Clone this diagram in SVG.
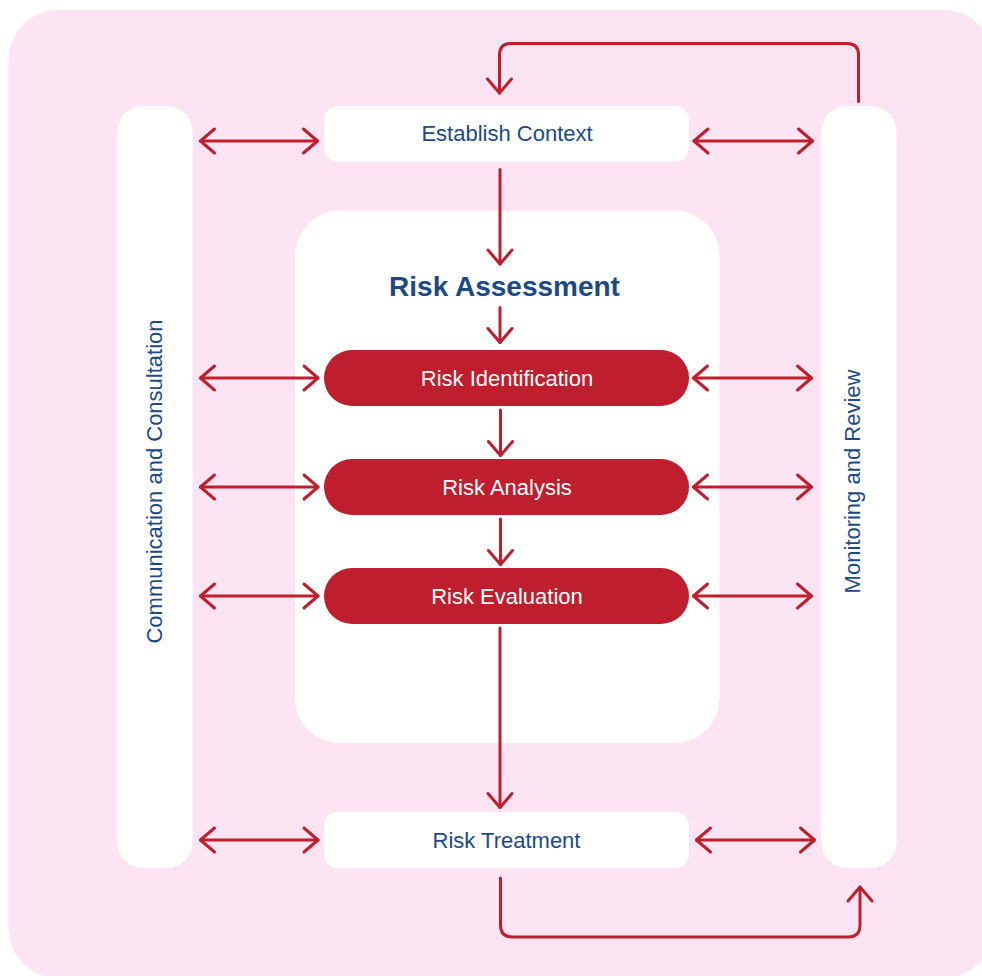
<svg xmlns="http://www.w3.org/2000/svg" width="982" height="976" viewBox="0 0 982 976">
<style>
.bg{fill:#fce4f2}
.white{fill:#ffffff}
.pill{fill:#be1e2d}
.lbl{font-family:"Liberation Sans",Arial,sans-serif;font-size:22px;fill:#1d4a85;text-anchor:middle}
.wlbl{font-family:"Liberation Sans",Arial,sans-serif;font-size:22px;fill:#ffffff;text-anchor:middle}
.title{font-family:"Liberation Sans",Arial,sans-serif;font-size:28px;font-weight:bold;fill:#1d4a85;text-anchor:middle}
.con{fill:none;stroke:#be1e2d;stroke-width:3;stroke-linecap:round;stroke-linejoin:round}
</style>
<defs>
<marker id="ah" viewBox="-20 -16 26 32" refX="0" refY="0" markerWidth="26" markerHeight="32" markerUnits="userSpaceOnUse" orient="auto-start-reverse">
<path d="M-14,-12 L0,0 L-14,12" fill="none" stroke="#be1e2d" stroke-width="3" stroke-linecap="round" stroke-linejoin="round"/>
</marker>
</defs>
<rect class="bg" x="8.5" y="10" width="985" height="968" rx="50"/>
<g id="panel-risk-assessment">
<rect class="white" x="295" y="210.5" width="424.5" height="532.5" rx="45"/>
<text class="title" x="504.5" y="295.5">Risk Assessment</text>
</g>
<g id="node-communication">
<rect class="white" x="117.5" y="106" width="75" height="762" rx="25"/>
<text class="lbl" transform="translate(161.5,481.5) rotate(-90)">Communication and Consultation</text>
</g>
<g id="node-monitoring">
<rect class="white" x="821.5" y="106" width="75" height="762" rx="25"/>
<text class="lbl" transform="translate(860,481.5) rotate(-90)">Monitoring and Review</text>
</g>
<g id="node-establish-context">
<rect class="white" x="324" y="106" width="365" height="55.5" rx="14"/>
<text class="lbl" x="507" y="141">Establish Context</text>
</g>
<g id="node-risk-identification">
<rect class="pill" x="324" y="350" width="365" height="56" rx="28"/>
<text class="wlbl" x="507" y="385.5">Risk Identification</text>
</g>
<g id="node-risk-analysis">
<rect class="pill" x="324" y="459" width="365" height="56" rx="28"/>
<text class="wlbl" x="507" y="495">Risk Analysis</text>
</g>
<g id="node-risk-evaluation">
<rect class="pill" x="324" y="568" width="365" height="56" rx="28"/>
<text class="wlbl" x="507" y="604">Risk Evaluation</text>
</g>
<g id="node-risk-treatment">
<rect class="white" x="324" y="812" width="365" height="56" rx="14"/>
<text class="lbl" x="506.5" y="848">Risk Treatment</text>
</g>
<g id="connectors">
<path class="con" d="M858.5,101.5 V55 Q858.5,43.5 847,43.5 H511 Q499.5,43.5 499.5,55 V93" marker-end="url(#ah)"/>
<path class="con" d="M500,169.5 V264" marker-end="url(#ah)"/>
<path class="con" d="M500,307.5 V342.5" marker-end="url(#ah)"/>
<path class="con" d="M500.5,410 V455.5" marker-end="url(#ah)"/>
<path class="con" d="M500.5,519 V564.5" marker-end="url(#ah)"/>
<path class="con" d="M500,628 V807.5" marker-end="url(#ah)"/>
<path class="con" d="M500.5,878 V925 Q500.5,937 512.5,937 H848 Q860,937 860,925 V887" marker-end="url(#ah)"/>
<path class="con" d="M200.5,141 H317.5" marker-start="url(#ah)" marker-end="url(#ah)"/>
<path class="con" d="M694,141 H812.5" marker-start="url(#ah)" marker-end="url(#ah)"/>
<path class="con" d="M200.5,378 H318" marker-start="url(#ah)" marker-end="url(#ah)"/>
<path class="con" d="M693.5,378 H811.5" marker-start="url(#ah)" marker-end="url(#ah)"/>
<path class="con" d="M200.5,487 H318" marker-start="url(#ah)" marker-end="url(#ah)"/>
<path class="con" d="M693.5,487 H811.5" marker-start="url(#ah)" marker-end="url(#ah)"/>
<path class="con" d="M200.5,596 H318" marker-start="url(#ah)" marker-end="url(#ah)"/>
<path class="con" d="M693.5,596 H811.5" marker-start="url(#ah)" marker-end="url(#ah)"/>
<path class="con" d="M200.5,840 H318" marker-start="url(#ah)" marker-end="url(#ah)"/>
<path class="con" d="M696.5,840 H814.5" marker-start="url(#ah)" marker-end="url(#ah)"/>
</g>
</svg>
